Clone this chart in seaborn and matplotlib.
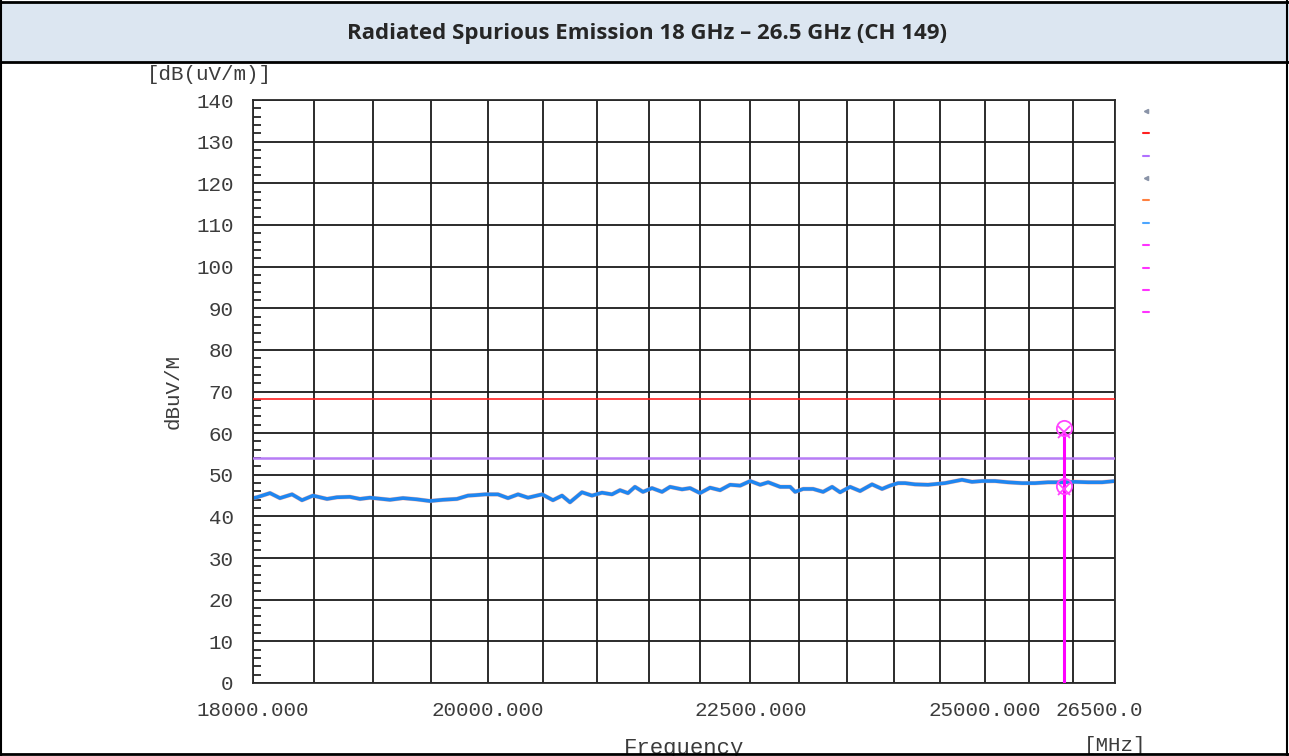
import numpy as np
import pandas as pd
import seaborn as sns
import matplotlib.pyplot as plt
import matplotlib.transforms as mtransforms
from matplotlib.lines import Line2D
from matplotlib.patches import Rectangle
from matplotlib.ticker import FixedLocator, MultipleLocator, NullFormatter

freq_mhz = [18000, 18032, 18138, 18219, 18318, 18400, 18491, 18608, 18691, 18800, 18885, 18970,
            19141, 19253, 19374, 19487, 19601, 19725, 19823, 19885, 19975,
            20091, 20182, 20273, 20364, 20493, 20593, 20677, 20751, 20863, 20957,
            21051, 21146, 21222, 21298, 21365, 21442, 21529, 21626, 21704, 21821, 21900, 21998,
            22097, 22197, 22297, 22398, 22499, 22600, 22681, 22803, 22906, 22957,
            23040, 23143, 23247, 23341, 23425, 23530, 23636, 23763, 23870, 23956,
            24042, 24118, 24226, 24368, 24554, 24742, 24853, 24965,
            25111, 25258, 25417, 25566, 25716, 25878, 26029, 26182, 26347, 26500]
level_dbuv = [44.4, 44.6, 45.6, 44.4, 45.3, 43.9, 45.0, 44.2, 44.6, 44.7, 44.2, 44.5,
              44.0, 44.4, 44.1, 43.7, 44.0, 44.2, 45.0, 45.1, 45.3,
              45.3, 44.4, 45.3, 44.5, 45.3, 43.9, 45.0, 43.4, 45.8, 45.0,
              45.7, 45.3, 46.3, 45.6, 47.1, 45.9, 46.8, 45.9, 47.1, 46.5, 46.8, 45.6,
              46.9, 46.3, 47.6, 47.4, 48.5, 47.6, 48.2, 47.1, 47.1, 45.9,
              46.6, 46.6, 45.9, 47.1, 45.8, 47.1, 46.1, 47.7, 46.6, 47.4,
              48.0, 48.0, 47.7, 47.6, 48.0, 48.8, 48.3, 48.5,
              48.5, 48.2, 48.0, 48.0, 48.2, 48.2, 48.3, 48.2, 48.2, 48.5]

limit_peak = 68.2
limit_avg = 54.0
marker_freq = 25900
marker_circle = [61.3, 47.2]
marker_cross = [60.3, 46.7]

xtick_vals = [18000, 20000, 22500, 25000, 26500]
xtick_text = ["18000.000", "20000.000", "22500.000", "25000.000", "26500.0"]

legend_colors = ["#8a94a8", "#ff2020", "#b070ff", "#8a94a8", "#ff8040",
                 "#4da6ff", "#ff33ff", "#ff33ff", "#ff33ff", "#ff33ff"]

sns.set_theme(style="white")
plt.rcParams["font.family"] = ["Liberation Mono", "DejaVu Sans"]

df = pd.DataFrame({"freq": freq_mhz, "level": level_dbuv})

fig = plt.figure(figsize=(12.89, 7.56), dpi=100)
ax = fig.add_axes([253/1289, 73/756, 862/1289, 583/756])

ax.set_xscale("log")
ax.set_xlim(18000, 26500)
ax.set_ylim(0, 140)

# traces (peak/avg nearly overlap)
sns.lineplot(data=df, x="freq", y="level", ax=ax, color="#ff9a80", lw=3.2, alpha=0.6, sort=False)
sns.lineplot(data=df, x="freq", y="level", ax=ax, color="#1f86f0", lw=2.6, sort=False)

ax.axhline(limit_peak, color="#ff2020", lw=1.2, zorder=3)
ax.axhline(limit_avg, color="#b77cf5", lw=1.8, zorder=3)

ax.vlines(marker_freq, 0, marker_cross[0], color="#ff00ff", lw=2.2, zorder=4)
ax.plot([marker_freq]*2, marker_circle, "o", mfc="none", mec="#ff44ff", ms=11, mew=1.3, zorder=5)
ax.plot([marker_freq]*2, marker_cross, "x", color="#ff44ff", ms=9, mew=1.3, zorder=5)

# axes / grid
ax.xaxis.set_major_locator(FixedLocator(xtick_vals))
ax.set_xticklabels(xtick_text)
ax.xaxis.set_minor_locator(FixedLocator(np.arange(18000, 26501, 500)))
ax.xaxis.set_minor_formatter(NullFormatter())
ax.yaxis.set_major_locator(MultipleLocator(10))
ax.yaxis.set_minor_locator(MultipleLocator(2))
ax.grid(False)
ax.grid(True, which="both", axis="x", color="#1a1a1a", lw=1.3)
ax.grid(True, which="major", axis="y", color="#1a1a1a", lw=1.3)
ax.tick_params(axis="x", which="both", length=0, pad=13, labelsize=15, labelcolor="#3c3c3c")
ax.tick_params(axis="y", which="major", length=0, pad=14, labelsize=15, labelcolor="#3c3c3c")
ax.tick_params(axis="y", which="minor", direction="in", length=6, width=1.1, color="black", left=True)
for s in ax.spines.values():
    s.set_color("#2a2a2a")
    s.set_linewidth(1.3)

lbl = ax.get_xticklabels()[-1]
lbl.set_transform(lbl.get_transform() + mtransforms.ScaledTranslation(-0.16, 0, fig.dpi_scale_trans))

ax.set_ylabel("dBuV/M", fontsize=15, color="#3c3c3c", labelpad=10)
ax.set_xlabel("Frequency", fontsize=16, color="#3c3c3c", labelpad=13)
ax.text(1.0, -0.108, "[MHz]", transform=ax.transAxes, ha="center", va="center",
        fontsize=15, color="#3c3c3c")
fig.text(147/1289, 1 - 75/756, "[dB(uV/m)]", ha="left", va="center", fontsize=15, color="#3c3c3c")

# right-hand marker list
handles = []
for i, c in enumerate(legend_colors):
    if i in (0, 3):
        handles.append(Line2D([], [], color=c, marker="<", ls="none", ms=3))
    else:
        handles.append(Line2D([], [], color=c, lw=1.5))
ax.legend(handles, [" "]*len(handles), loc="upper left", bbox_to_anchor=(1.025, 1.0),
          frameon=False, handlelength=0.5, handletextpad=0, borderpad=0,
          labelspacing=0.83, fontsize=9)

# table frame and header
fig.add_artist(Rectangle((0, 1 - 62/756), 1, 60/756, transform=fig.transFigure,
                         facecolor="#dce6f1", edgecolor="none", zorder=0))
for y in (1 - 2/756, 1 - 62/756, 2/756):
    fig.add_artist(Line2D([0, 1], [y, y], transform=fig.transFigure, color="black", lw=2))
for x in (1/1289, 1 - 2/1289):
    fig.add_artist(Line2D([x, x], [0, 1], transform=fig.transFigure, color="black", lw=1.5))
fig.text(0.502, 1 - 33/756, "Radiated Spurious Emission 18 GHz \u2013 26.5 GHz (CH 149)",
         ha="center", va="center", fontsize=16, fontweight="bold",
         family=["Open Sans", "DejaVu Sans"])

fig.savefig("out.png", dpi=100)
